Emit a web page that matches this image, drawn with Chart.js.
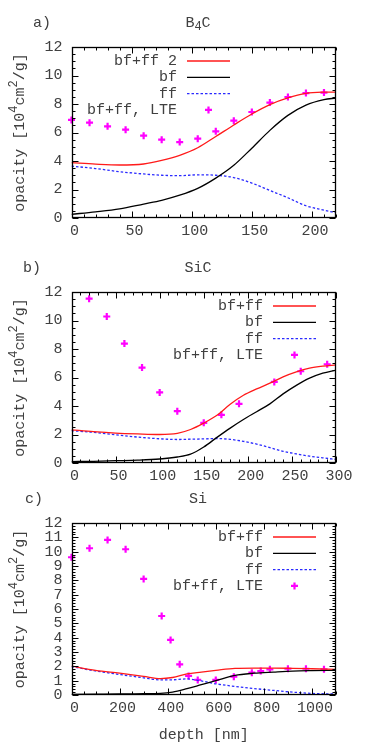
<!DOCTYPE html>
<html>
<head>
<meta charset="utf-8">
<script src="https://cdn.jsdelivr.net/npm/chart.js@4.4.0/dist/chart.umd.min.js"></script>
<style>
  html, body { margin: 0; padding: 0; background: #fff; }
  #wrap { position: relative; width: 382px; height: 756px; }
  .panel { position: absolute; left: 0; width: 382px; }
</style>
</head>
<body>
<div id="wrap">
  <div class="panel" style="top:0"><canvas id="chartA" width="382" height="245"></canvas></div>
  <div class="panel" style="top:245px"><canvas id="chartB" width="382" height="245"></canvas></div>
  <div class="panel" style="top:490px"><canvas id="chartC" width="382" height="266"></canvas></div>
</div>
<script>
// ---- a) B4C ----
const depthA = [0, 20, 40, 60, 75, 90, 105, 120, 135, 150, 165, 180, 195, 210, 220];
const bfffA  = [3.88, 3.78, 3.72, 3.79, 4.04, 4.4, 4.93, 5.72, 6.53, 7.3, 7.96, 8.43, 8.74, 8.83, 8.84];
const bfA    = [0.26, 0.43, 0.64, 0.98, 1.24, 1.6, 2.08, 2.8, 3.7, 4.9, 6.15, 7.2, 7.92, 8.3, 8.42];
const ffA    = [3.64, 3.47, 3.25, 3.09, 3.0, 2.97, 3.03, 3.0, 2.84, 2.45, 1.93, 1.42, 0.86, 0.55, 0.37];
const lteDepthA = [0, 15, 30, 45, 60, 75, 90, 105, 120, 135, 150, 165, 180, 195, 210];
const lteA      = [6.88, 6.69, 6.43, 6.2, 5.78, 5.5, 5.33, 5.57, 6.08, 6.83, 7.44, 8.1, 8.49, 8.77, 8.8];

// ---- b) SiC ----
const depthB = [0, 25, 50, 75, 100, 120, 135, 150, 165, 180, 195, 210, 225, 240, 255, 270, 285, 300];
const bfffB  = [2.33, 2.2, 2.1, 2.04, 2.0, 2.08, 2.35, 2.8, 3.35, 4.12, 4.75, 5.2, 5.6, 6.05, 6.4, 6.66, 6.8, 6.88];
const bfB    = [0.1, 0.12, 0.16, 0.2, 0.28, 0.42, 0.62, 1.12, 1.8, 2.45, 3.05, 3.6, 4.15, 4.85, 5.45, 5.95, 6.3, 6.52];
const ffB    = [2.27, 2.15, 1.98, 1.82, 1.7, 1.65, 1.67, 1.69, 1.72, 1.66, 1.52, 1.33, 1.08, 0.82, 0.64, 0.48, 0.36, 0.25];
const lteDepthB = [20, 40, 60, 80, 100, 120, 150, 170, 190, 230, 260, 290];
const lteB      = [11.53, 10.28, 8.38, 6.7, 4.95, 3.64, 2.82, 3.38, 4.15, 5.69, 6.44, 6.93];

// ---- c) Si ----
const depthC = [0, 100, 200, 300, 370, 420, 480, 540, 600, 680, 760, 840, 920, 1000, 1100];
const bfffC  = [2.02, 1.72, 1.52, 1.3, 1.14, 1.22, 1.47, 1.6, 1.72, 1.86, 1.88, 1.88, 1.86, 1.83, 1.79];
const bfC    = [0.05, 0.06, 0.07, 0.09, 0.11, 0.2, 0.44, 0.72, 1.0, 1.37, 1.52, 1.6, 1.67, 1.7, 1.72];
const ffC    = [1.98, 1.68, 1.43, 1.2, 1.05, 1.06, 1.12, 0.98, 0.78, 0.6, 0.45, 0.32, 0.2, 0.11, 0.07];
const lteDepthC = [0, 75, 150, 225, 300, 375, 412, 450, 487, 525, 600, 675, 750, 787, 825, 900, 975, 1050];
const lteC      = [9.61, 10.24, 10.82, 10.17, 8.1, 5.51, 3.84, 2.14, 1.33, 1.05, 1.05, 1.28, 1.56, 1.67, 1.79, 1.83, 1.83, 1.79];

const FONT = "'Liberation Mono', 'DejaVu Sans Mono', monospace";
const FS = 15;
const TEXT = '#404040';
Chart.defaults.font.family = FONT;
Chart.defaults.font.size = FS;
Chart.defaults.color = TEXT;

function pts(xs, ys) {
  return xs.map((x, i) => ({ x: x, y: ys[i] }));
}

// draws text made of pieces: [text, raise, scale]
function richText(ctx, parts, x, y, align) {
  let total = 0;
  parts.forEach(p => {
    ctx.font = Math.round(FS * (p[2] || 1)) + 'px ' + FONT;
    total += ctx.measureText(p[0]).width;
  });
  let cx = align === 'center' ? x - total / 2 : x;
  parts.forEach(p => {
    ctx.font = Math.round(FS * (p[2] || 1)) + 'px ' + FONT;
    ctx.fillText(p[0], cx, y - (p[1] || 0));
    cx += ctx.measureText(p[0]).width;
  });
}

// panel labels, title and y axis title
const labelsPlugin = {
  id: 'labels',
  afterDraw(chart, args, opts) {
    const { ctx, chartArea: a } = chart;
    ctx.save();
    ctx.fillStyle = TEXT;
    ctx.textBaseline = 'middle';
    ctx.textAlign = 'left';
    richText(ctx, [[opts.tag]], opts.tagX, a.top - 24, 'left');
    richText(ctx, opts.title, 198, a.top - 24, 'center');
    ctx.translate(20, (a.top + a.bottom) / 2);
    ctx.rotate(-Math.PI / 2);
    richText(ctx, [['opacity [10'], ['4', 6, 0.8], ['cm'], ['2', 6, 0.8], ['/g]']], 0, 0, 'center');
    ctx.restore();
  }
};

// gnuplot style border with inward major/minor tics on all four sides
const framePlugin = {
  id: 'frame',
  afterDatasetsDraw(chart, args, opts) {
    const { ctx, chartArea: a, scales: { x, y } } = chart;
    const L = Math.round(a.left) + 0.5, R = Math.round(a.right) - 0.5;
    const T = Math.round(a.top) + 0.5, B = Math.round(a.bottom) - 0.5;
    const isMajor = (v, m) => Math.abs(v / m - Math.round(v / m)) < 1e-6;
    ctx.save();
    ctx.strokeStyle = '#000';
    ctx.lineWidth = 1;
    ctx.beginPath();
    const nx = Math.round((x.max - x.min) / opts.xMinor);
    for (let i = 0; i <= nx; i++) {
      const v = x.min + i * opts.xMinor;
      const px = Math.round(x.getPixelForValue(v)) + 0.5;
      const len = isMajor(v, opts.xMajor) ? 6 : 3;
      ctx.moveTo(px, B); ctx.lineTo(px, B - len);
      ctx.moveTo(px, T); ctx.lineTo(px, T + len);
    }
    const ny = Math.round((y.max - y.min) / opts.yMinor);
    for (let i = 0; i <= ny; i++) {
      const v = y.min + i * opts.yMinor;
      const py = Math.round(y.getPixelForValue(v)) + 0.5;
      const len = isMajor(v, opts.yMajor) ? 6 : 3;
      ctx.moveTo(L, py); ctx.lineTo(L + len, py);
      ctx.moveTo(R, py); ctx.lineTo(R - len, py);
    }
    ctx.stroke();
    ctx.lineWidth = 1.3;
    ctx.strokeRect(L, T, R - L, B - T);
    ctx.restore();
  }
};

// key in the top right corner: text, then a sample
const keyPlugin = {
  id: 'key',
  afterDraw(chart, args, opts) {
    const { ctx, chartArea: a } = chart;
    const xEnd = a.right - opts.right;
    const xStart = xEnd - 43;
    ctx.save();
    ctx.font = FS + 'px ' + FONT;
    ctx.textAlign = 'right';
    ctx.textBaseline = 'middle';
    chart.data.datasets.forEach((ds, i) => {
      const yy = a.top + opts.top + i * 16.3;
      ctx.fillStyle = TEXT;
      ctx.fillText(ds.label, xStart - 10, yy);
      if (ds.showLine) {
        ctx.strokeStyle = ds.borderColor;
        ctx.lineWidth = ds.borderWidth;
        ctx.setLineDash(ds.borderDash || []);
        ctx.beginPath();
        ctx.moveTo(xStart, yy);
        ctx.lineTo(xEnd, yy);
        ctx.stroke();
        ctx.setLineDash([]);
      } else {
        const cx = (xStart + xEnd) / 2, r = ds.pointRadius;
        ctx.strokeStyle = ds.borderColor;
        ctx.lineWidth = ds.borderWidth;
        ctx.beginPath();
        ctx.moveTo(cx - r, yy); ctx.lineTo(cx + r, yy);
        ctx.moveTo(cx, yy - r); ctx.lineTo(cx, yy + r);
        ctx.stroke();
      }
    });
    ctx.restore();
  }
};

function lineSet(label, data, color, dash) {
  return {
    label: label, data: data, showLine: true,
    borderColor: color, borderWidth: 1.3, borderDash: dash || [],
    pointRadius: 0, cubicInterpolationMode: 'monotone'
  };
}

function makePanel(id, cfg) {
  const xTitle = cfg.xTitle || '';
  new Chart(document.getElementById(id), {
    type: 'scatter',
    data: {
      datasets: [
        lineSet(cfg.sumLabel, pts(cfg.depth, cfg.bfff), '#ff1a1a'),
        lineSet('bf', pts(cfg.depth, cfg.bf), '#000000'),
        lineSet('ff', pts(cfg.depth, cfg.ff), '#2a2aff', [2.5, 2]),
        {
          label: 'bf+ff, LTE', data: pts(cfg.lteDepth, cfg.lte), showLine: false,
          pointStyle: 'cross', pointRadius: 3.5, borderWidth: 2.2,
          borderColor: '#ff00ff', backgroundColor: '#ff00ff', clip: false
        }
      ]
    },
    options: {
      responsive: false,
      animation: false,
      layout: { padding: { top: cfg.top, right: 46, left: 0, bottom: 0 } },
      plugins: {
        legend: { display: false },
        tooltip: { enabled: false },
        labels: { tag: cfg.tag, tagX: cfg.tagX, title: cfg.title },
        frame: { xMajor: cfg.xStep, xMinor: cfg.xMinor, yMajor: cfg.yStep, yMinor: cfg.yMinor },
        key: { right: cfg.keyRight, top: 14 }
      },
      scales: {
        x: {
          type: 'linear', min: 0, max: cfg.xMax,
          grid: { display: false, drawTicks: false },
          border: { display: false },
          ticks: {
            stepSize: cfg.xStep, includeBounds: false, padding: 4, labelOffset: 3,
            maxRotation: 0, autoSkip: false,
            callback: v => String(v)
          },
          title: { display: xTitle !== '', text: xTitle, color: TEXT, padding: { top: 0, bottom: 12 } },
          afterFit(s) { s.height = cfg.xHeight; }
        },
        y: {
          min: 0, max: 12,
          grid: { display: false, drawTicks: false },
          border: { display: false },
          ticks: { stepSize: cfg.yStep, padding: 9, autoSkip: false },
          afterFit(s) { s.width = 71.5; }
        }
      }
    },
    plugins: [labelsPlugin, framePlugin, keyPlugin]
  });
}

makePanel('chartA', {
  depth: depthA, bfff: bfffA, bf: bfA, ff: ffA, lteDepth: lteDepthA, lte: lteA,
  sumLabel: 'bf+ff 2', tag: 'a)', tagX: 33, title: [['B'], ['4', -4, 0.8], ['C']],
  top: 47, xHeight: 27, xMax: 220, xStep: 50, xMinor: 10, yStep: 2, yMinor: 0.5, keyRight: 106
});
makePanel('chartB', {
  depth: depthB, bfff: bfffB, bf: bfB, ff: ffB, lteDepth: lteDepthB, lte: lteB,
  sumLabel: 'bf+ff', tag: 'b)', tagX: 23, title: [['SiC']],
  top: 47, xHeight: 27, xMax: 300, xStep: 50, xMinor: 10, yStep: 2, yMinor: 0.5, keyRight: 20
});
makePanel('chartC', {
  depth: depthC, bfff: bfffC, bf: bfC, ff: ffC, lteDepth: lteDepthC, lte: lteC,
  sumLabel: 'bf+ff', tag: 'c)', tagX: 25, title: [['Si']],
  top: 33, xHeight: 61, xMax: 1100, xStep: 200, xMinor: 50, yStep: 1, yMinor: 0.2, keyRight: 20,
  xTitle: 'depth [nm]'
});
</script>
</body>
</html>
